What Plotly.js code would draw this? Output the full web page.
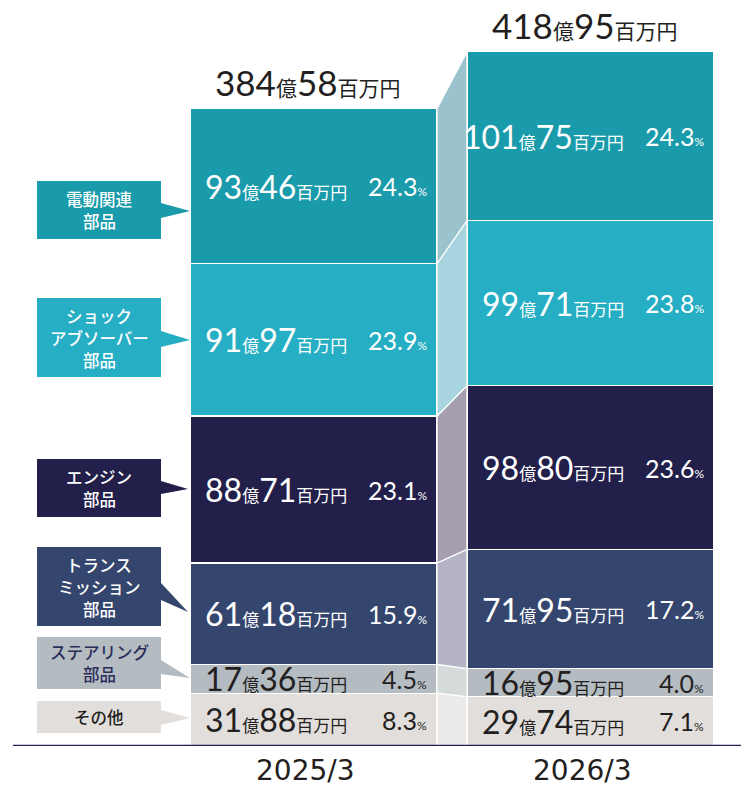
<!DOCTYPE html>
<html>
<head>
<meta charset="utf-8">
<script src="https://cdn.plot.ly/plotly-3.0.1.min.js"></script>
<style>
  html, body { margin: 0; padding: 0; background: #ffffff; }
  #chart { width: 741px; height: 787px; }
</style>
</head>
<body>
<div id="chart"></div>
<script>
// ---------- data (億円) ----------
const categories = ["2025/3", "2026/3"];
const segmentNames = ["その他", "ステアリング部品", "トランスミッション部品", "エンジン部品", "ショックアブソーバー部品", "電動関連部品"];
const boxLabels = [["その他"], ["ステアリング", "部品"], ["トランス", "ミッション", "部品"], ["エンジン", "部品"], ["ショック", "アブソーバー", "部品"], ["電動関連", "部品"]];
const values2025 = [31.88, 17.36, 61.18, 88.71, 91.97, 93.46];
const values2026 = [29.74, 16.95, 71.95, 98.80, 99.71, 101.75];
const shares2025 = [8.3, 4.5, 15.9, 23.1, 23.9, 24.3];
const shares2026 = [7.1, 4.0, 17.2, 23.6, 23.8, 24.3];
const totals = [384.58, 418.95];

// ---------- styles ----------
const barColors = ["#e2dedc", "#b4bcc1", "#34466d", "#221f4a", "#26aec4", "#1a9bab"];
const linkColors = ["#edebea", "#d5dadb", "#b5b4c6", "#a69fb0", "#a8d4df", "#9bc3ce"];
const textColors = ["#231f20", "#231f20", "#ffffff", "#ffffff", "#ffffff", "#ffffff"];
const boxTextColors = ["#231f20", "#2a2d5a", "#ffffff", "#ffffff", "#ffffff", "#ffffff"];
const W = 741, PLOT_H = 746;
const PX_PER_X = 277;
const BAR_W = 0.892;
const NUM = "Lato, 'Noto Sans', sans-serif";
const JP = "'Noto Sans CJK JP', sans-serif";
const JPM = "'Noto Sans CJK JP Medium', 'Noto Sans CJK JP', sans-serif";

const px = v => v / W;               // pixel x -> paper
const py = v => 1 - v / PLOT_H;      // pixel y (from top) -> paper

function amountText(v, big, small) {
  const s = v.toFixed(2).split(".");
  return `<span style="font-family:${NUM};font-size:${big}px">${s[0]}</span>` +
         `<span style="font-size:${small}px">億</span>` +
         `<span style="font-family:${NUM};font-size:${big}px">${s[1]}</span>` +
         `<span style="font-size:${small}px">百万円</span>`;
}
function shareText(p) {
  return `<span style="font-family:${NUM};font-size:25px">${p.toFixed(1)}</span>` +
         `<span style="font-family:${NUM};font-size:12px">%</span>`;
}

const series = [values2025, values2026];
const shares = [shares2025, shares2026];
const traces = [];
const annotations = [];
const shapes = [];

// cumulative bounds
const cum = series.map(vals => {
  const out = []; let c = 0;
  vals.forEach(v => { out.push([c, c + v]); c += v; });
  return out;
});

// connectors
const xr = BAR_W / 2, xl = 1 - BAR_W / 2;
segmentNames.forEach((n, i) => {
  traces.push({
    type: "scatter", mode: "lines", fill: "toself",
    x: [xr, xl, xl, xr, xr],
    y: [cum[0][i][0], cum[1][i][0], cum[1][i][1], cum[0][i][1], cum[0][i][0]],
    fillcolor: linkColors[i],
    line: { color: "#ffffff", width: 1.2 },
    hoverinfo: "skip", showlegend: false
  });
});

// bars
segmentNames.forEach((n, i) => {
  traces.push({
    type: "bar", name: n,
    x: [0, 1], y: [values2025[i], values2026[i]],
    width: BAR_W,
    marker: { color: barColors[i], line: { color: "#ffffff", width: 1.2 } },
    hoverinfo: "skip", showlegend: false
  });
});

// in-bar labels
series.forEach((vals, b) => {
  vals.forEach((v, i) => {
    const mid = (cum[b][i][0] + cum[b][i][1]) / 2;
    annotations.push({
      x: b, y: mid, xref: "x", yref: "y",
      text: amountText(v, 32, 17),
      showarrow: false, xanchor: "right", yanchor: "middle",
      xshift: BAR_W / 2 * PX_PER_X - 88,
      font: { family: JP, color: textColors[i], size: 17 }
    });
    annotations.push({
      x: b, y: mid, xref: "x", yref: "y",
      text: shareText(shares[b][i]),
      showarrow: false, xanchor: "right", yanchor: "middle",
      xshift: BAR_W / 2 * PX_PER_X - 8,
      font: { family: JP, color: textColors[i], size: 17 }
    });
  });
});

// totals above bars
totals.forEach((t, b) => {
  const top = cum[b][cum[b].length - 1][1];
  annotations.push({
    x: b, y: top, xref: "x", yref: "y",
    text: amountText(t, 35, 21),
    showarrow: false, xanchor: "center", yanchor: "bottom",
    xshift: -6, yshift: 4,
    font: { family: JP, color: "#231f20", size: 21 }
  });
});

// category labels under the baseline
categories.forEach((c, b) => {
  annotations.push({
    x: b, y: 0, xref: "x", yref: "y",
    text: c, showarrow: false, xanchor: "center", yanchor: "middle",
    xshift: -8, yshift: -24.5, borderpad: 0,
    font: { family: "'DejaVu Sans', sans-serif", size: 28, color: "#231f20" }
  });
});

// left callout boxes: [top, bottom, triUpper, triLower, tipY, tipX]
const boxGeom = [
  [701, 733, 710, 725, 718, 190],
  [637, 689, 660, 674, 678, 190],
  [547, 626, 583, 600, 612, 188],
  [459, 517, 481, 494, 489, 188],
  [298, 377, 331, 347, 340, 190],
  [181, 239, 203, 218, 211, 190]
];
const BOX_L = 37, BOX_R = 161, LINE_PITCH = 22;
boxGeom.forEach((g, i) => {
  const [t, bt, u, l, ty, tx] = g;
  shapes.push({
    type: "path", xref: "paper", yref: "paper",
    path: `M ${px(BOX_L)} ${py(t)} L ${px(BOX_R)} ${py(t)} L ${px(BOX_R)} ${py(u)} L ${px(tx)} ${py(ty)} L ${px(BOX_R)} ${py(l)} L ${px(BOX_R)} ${py(bt)} L ${px(BOX_L)} ${py(bt)} Z`,
    fillcolor: barColors[i], line: { width: 0 }, layer: "above"
  });
  const lines = boxLabels[i];
  const cy = (t + bt) / 2;
  lines.forEach((ln, k) => {
    const yy = cy + (k - (lines.length - 1) / 2) * LINE_PITCH;
    annotations.push({
      x: px((BOX_L + BOX_R) / 2), y: py(yy), xref: "paper", yref: "paper",
      text: ln, showarrow: false, xanchor: "center", yanchor: "middle", borderpad: 0,
      font: { family: JPM, size: 16.5, color: boxTextColors[i], weight: 500 }
    });
  });
});

// baseline
shapes.push({
  type: "line", xref: "paper", yref: "y",
  x0: px(13), x1: 1, y0: 0, y1: 0,
  line: { color: "#24224f", width: 2.5 }, layer: "above"
});

const layout = {
  width: 741, height: 787,
  margin: { l: 0, r: 0, t: 0, b: 41, pad: 0 },
  paper_bgcolor: "#ffffff", plot_bgcolor: "#ffffff",
  barmode: "stack", bargap: 0,
  showlegend: false,
  xaxis: {
    range: [-313.5 / PX_PER_X, (W - 313.5) / PX_PER_X],
    showticklabels: false,
    ticks: "", showgrid: false, zeroline: false, showline: false,
    fixedrange: true
  },
  yaxis: {
    range: [0, PLOT_H / 1.657],
    visible: false, showgrid: false, zeroline: false, fixedrange: true
  },
  annotations: annotations,
  shapes: shapes
};

Plotly.newPlot("chart", traces, layout, { displayModeBar: false, staticPlot: true });
</script>
</body>
</html>
